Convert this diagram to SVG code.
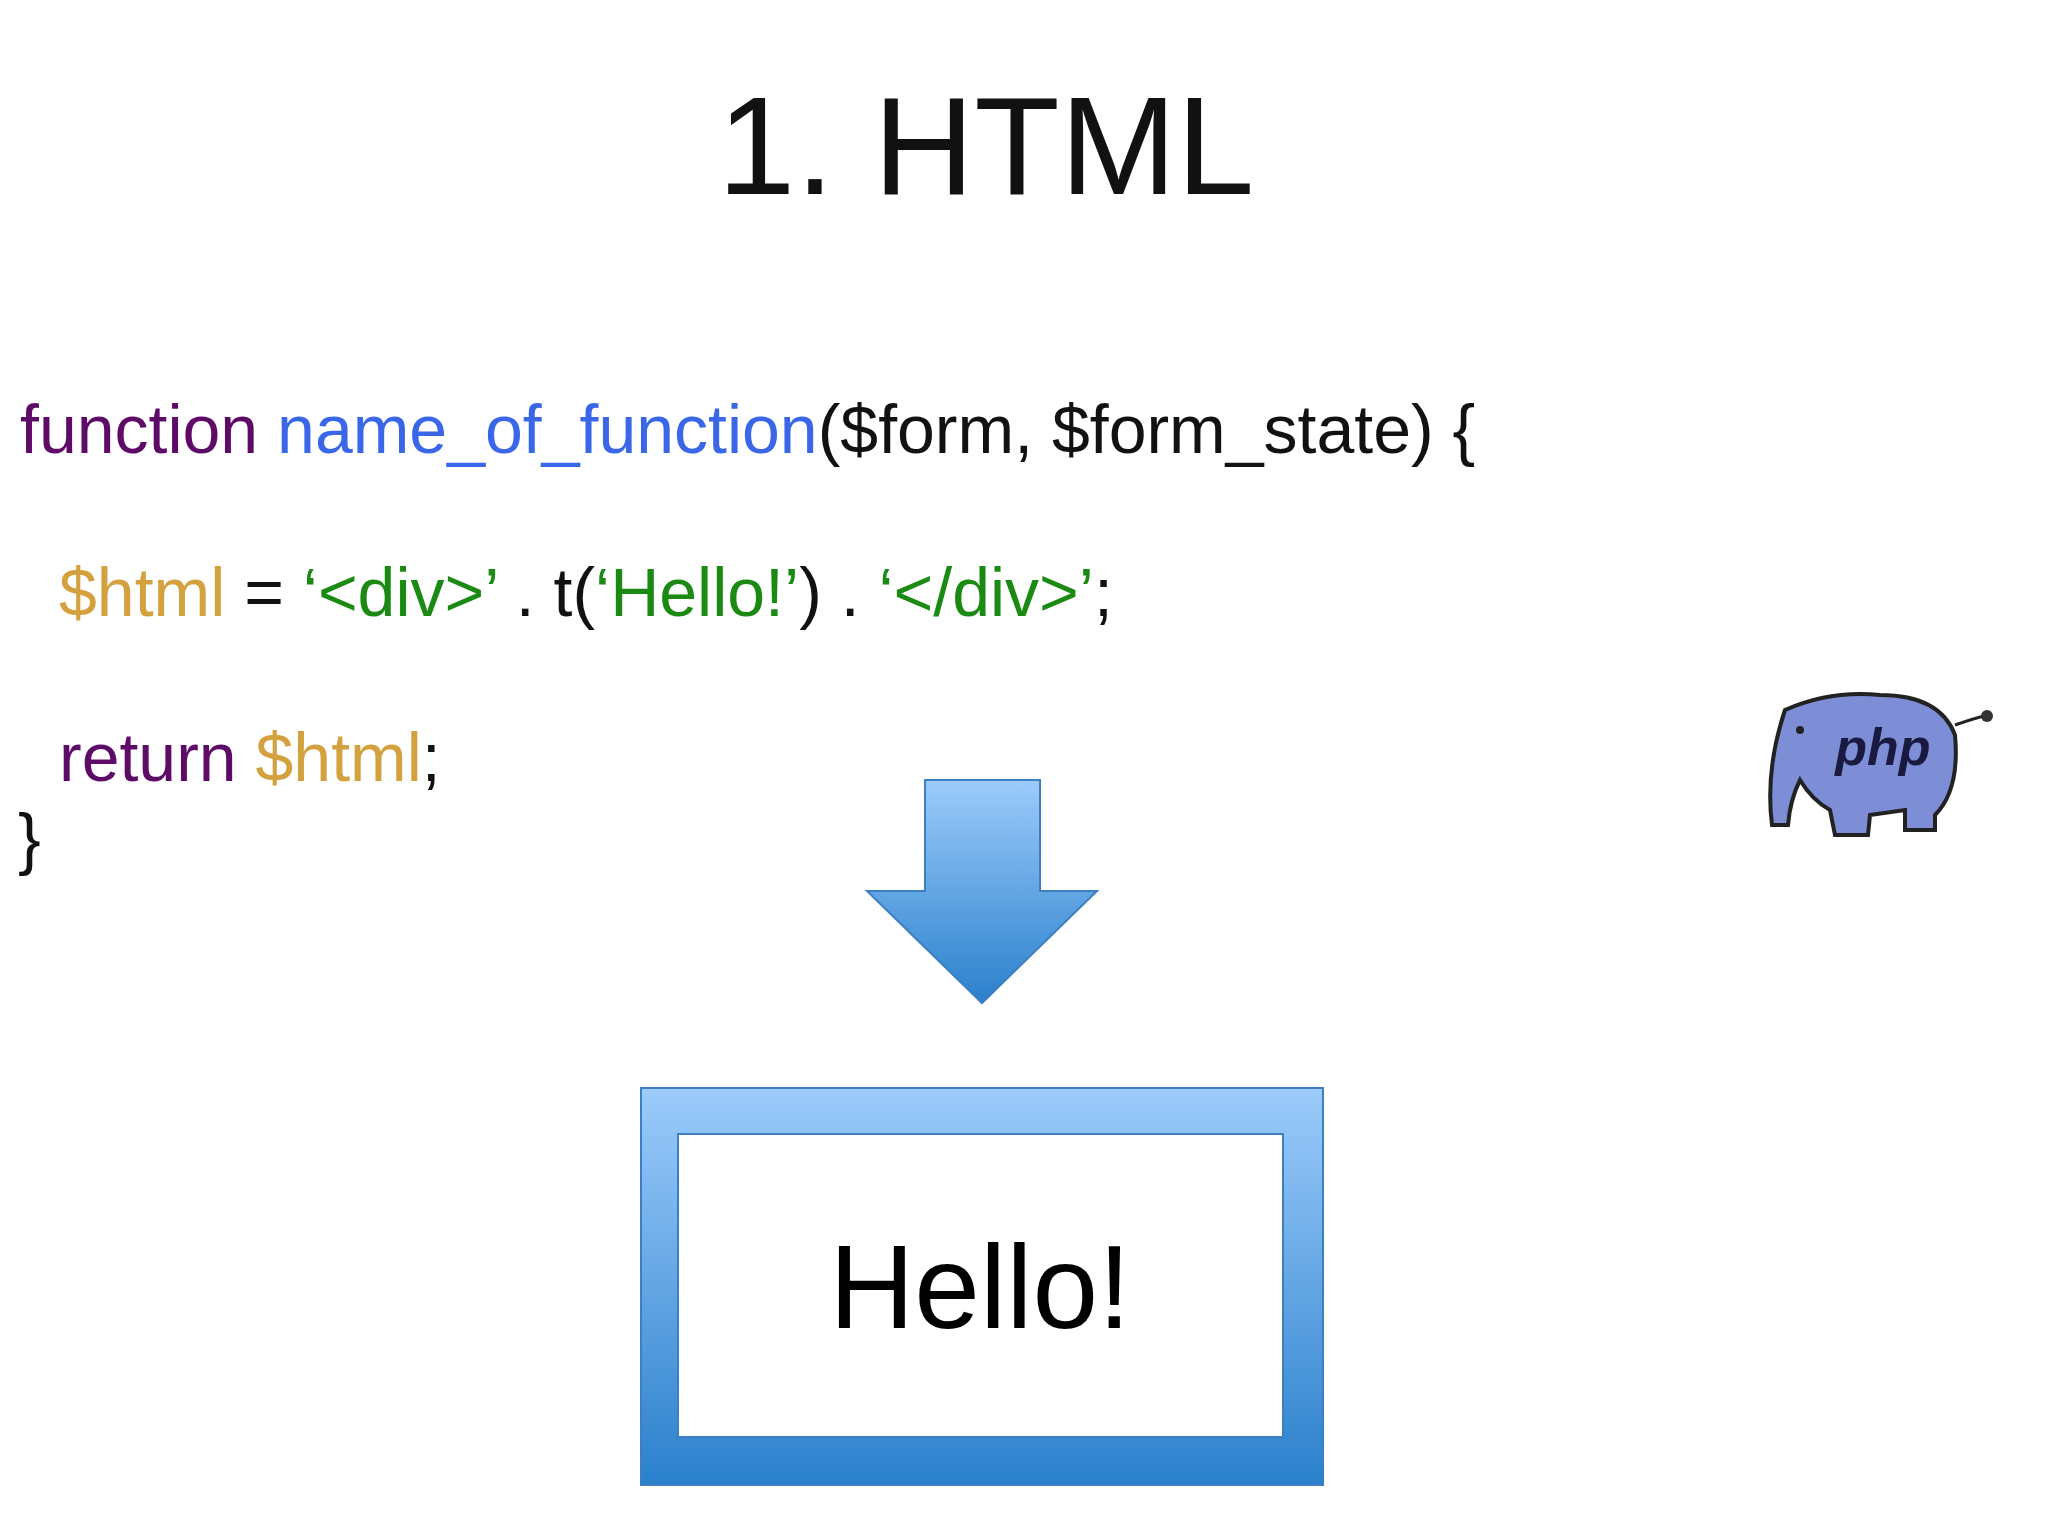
<svg xmlns="http://www.w3.org/2000/svg" width="2048" height="1536" viewBox="0 0 2048 1536">
<defs>
<linearGradient id="g" x1="0" y1="0" x2="0" y2="1"><stop offset="0" stop-color="#9ccbfb"/><stop offset="1" stop-color="#2a80cc"/></linearGradient>
<style>
.code{font-family:"Liberation Sans",Arial,sans-serif;font-size:68px}
.kw{fill:#5e0b68}.fn{fill:#3a66e8}.var{fill:#d3a13e}.str{fill:#1a8a12}.pl{fill:#111}
</style>
</defs>
<rect width="2048" height="1536" fill="#fff"/>
<text x="986" y="194" text-anchor="middle" font-family="Liberation Sans,Arial,sans-serif" font-size="140" fill="#111">1. HTML</text>
<g id="code" class="code">
<text x="20" y="453"><tspan class="kw">function </tspan><tspan class="fn">name_of_function</tspan><tspan class="pl">($form, $form_state) {</tspan></text>
<text x="59" y="616"><tspan class="var">$html</tspan><tspan class="pl"> = </tspan><tspan class="str">‘&lt;div&gt;’</tspan><tspan class="pl"> . t(</tspan><tspan class="str">‘Hello!’</tspan><tspan class="pl">) . </tspan><tspan class="str">‘&lt;/div&gt;’</tspan><tspan class="pl">;</tspan></text>
<text x="59" y="781"><tspan class="kw">return </tspan><tspan class="var">$html</tspan><tspan class="pl">;</tspan></text>
<text x="18" y="862" class="pl">}</text>
</g>
<g id="connectors">
<path d="M925 780 H1040 V891 H1097 L982 1003 L867 891 H925 Z" fill="url(#g)" stroke="#3d7fc0" stroke-width="2"/>
</g>
<g id="box">
<rect x="641" y="1088" width="682" height="397" fill="url(#g)" stroke="#3d7fc0" stroke-width="2"/>
<rect x="678" y="1134" width="605" height="303" fill="#fff" stroke="#3d7fc0" stroke-width="2"/>
<text x="980" y="1328" text-anchor="middle" font-family="Liberation Sans,Arial,sans-serif" font-size="118" fill="#000">Hello!</text>
</g>
<g id="php">
<path d="M1785 710 Q1830 690 1880 695 Q1940 695 1955 735 Q1960 790 1935 815 L1935 830 L1905 830 L1905 810 L1870 815 L1868 835 L1835 835 L1830 810 Q1812 800 1800 780 Q1790 800 1788 825 L1772 825 Q1765 770 1785 710 Z" fill="#7d8ed6" stroke="#222" stroke-width="4"/>
<path d="M1955 725 Q1975 718 1985 716" stroke="#222" stroke-width="3" fill="none"/>
<circle cx="1987" cy="716" r="6" fill="#333"/>
<circle cx="1800" cy="730" r="4" fill="#222"/>
<text x="1883" y="765" text-anchor="middle" font-family="Liberation Sans,Arial,sans-serif" font-weight="bold" font-style="italic" font-size="52" fill="#1a1a40">php</text>
</g>
</svg>
